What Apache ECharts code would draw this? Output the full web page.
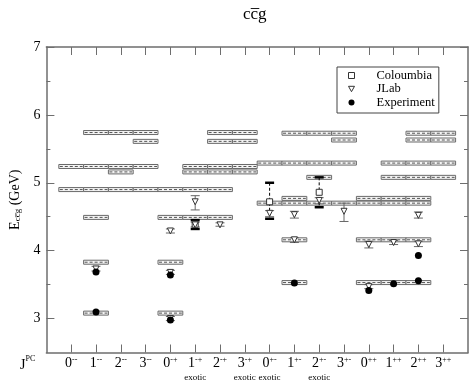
<!DOCTYPE html>
<html>
<head>
<meta charset="utf-8">
<script src="https://cdn.jsdelivr.net/npm/echarts@6/dist/echarts.min.js"></script>
<style>
  html, body { margin: 0; padding: 0; background: #fff; }
  #chart { width: 470px; height: 382px; }
</style>
</head>
<body>
<div id="chart"></div>
<script>
// J^PC channels, drawn at x = 1..16
const categories = ['0--','1--','2--','3--','0-+','1-+','2-+','3-+','0+-','1+-','2+-','3+-','0++','1++','2++','3++'];
const exotic = ['1-+','3-+','0+-','2+-'];
const yTicks = [3, 4, 5, 6, 7];
const yMinorTicks = [3.5, 4.5, 5.5, 6.5];

// Columbia lattice bands: [channel, energy GeV]
const columbiaBands = [
  ['1--',5.74],['2--',5.74],['3--',5.74],['2-+',5.74],['3-+',5.74],
  ['1+-',5.73],['2+-',5.73],['3+-',5.73],['2++',5.73],['3++',5.73],
  ['3--',5.61],['2-+',5.61],['3-+',5.61],['3+-',5.63],['2++',5.63],['3++',5.63],
  ['0+-',5.29],['1+-',5.29],['2+-',5.29],['3+-',5.29],['1++',5.29],['2++',5.29],['3++',5.29],
  ['0--',5.24],['1--',5.24],['2--',5.24],['3--',5.24],['1-+',5.24],['2-+',5.24],['3-+',5.24],
  ['2--',5.16],['1-+',5.16],['2-+',5.16],['3-+',5.16],
  ['2+-',5.08],['1++',5.08],['2++',5.08],['3++',5.08],
  ['0--',4.90],['1--',4.90],['2--',4.90],['3--',4.90],['0-+',4.90],['1-+',4.90],['2-+',4.90],
  ['1+-',4.77],['0++',4.77],['1++',4.77],['2++',4.77],
  ['0+-',4.70],['1+-',4.70],['2+-',4.70],['3+-',4.70],['0++',4.70],['1++',4.70],['2++',4.70],
  ['1--',4.49],['0-+',4.49],['1-+',4.49],['2-+',4.49],
  ['1+-',4.16],['0++',4.16],['1++',4.16],['2++',4.16],
  ['1--',3.83],['0-+',3.83],
  ['1+-',3.53],['0++',3.53],['1++',3.53],['2++',3.53],
  ['1--',3.08],['0-+',3.08]
];

// Columbia points with error: [channel, E, low, high]
const columbiaPts = [['1-+',4.39,4.32,4.45],['0+-',4.72,4.47,5.00],['2+-',4.86,4.64,5.08]];

// JLab: [channel, E, low, high]
const jlab = [
  ['1--',3.73,3.70,3.77],
  ['0-+',3.00,2.97,3.03],['0-+',3.68,3.65,3.71],['0-+',4.29,4.26,4.32],
  ['1-+',4.72,4.60,4.81],['1-+',4.38,4.35,4.42],
  ['2-+',4.38,4.36,4.41],
  ['0+-',4.55,4.50,4.59],
  ['1+-',4.53,4.48,4.58],['1+-',4.16,4.12,4.19],
  ['2+-',4.74,4.69,4.78],
  ['3+-',4.58,4.43,4.70],
  ['0++',3.47,3.44,3.50],['0++',4.09,4.04,4.14],
  ['1++',4.12,4.09,4.15],
  ['2++',4.10,4.06,4.14],['2++',4.52,4.48,4.57]
];

// Experiment: [channel, E]
const experiment = [['1--',3.097],['1--',3.686],['0-+',2.98],['0-+',3.64],['1+-',3.525],
  ['0++',3.415],['1++',3.511],['2++',3.556],['2++',3.93]];

const pos = c => categories.indexOf(c) + 1;
const serif = 'Liberation Serif';
const axisCol = '#6e6e6e';

const chart = echarts.init(document.getElementById('chart'));

function bandItem(params, api) {
  const x = api.value(0), e = api.value(1);
  const l = api.coord([x - 0.5, e]), r = api.coord([x + 0.5, e]);
  const h = 4;
  return {
    type: 'group',
    children: [
      { type: 'rect', shape: { x: l[0], y: l[1] - h / 2, width: r[0] - l[0], height: h },
        style: { fill: '#f4f4f4', stroke: '#6a6a6a', lineWidth: 1 } },
      { type: 'line', shape: { x1: l[0] + 1, y1: l[1], x2: r[0] - 1, y2: l[1] },
        style: { stroke: '#555', lineWidth: 1, lineDash: [3, 2] } }
    ]
  };
}

function errItem(color, dashed, capLW) {
  return function (params, api) {
    const x = api.value(0);
    const top = api.coord([x, api.value(2)]), bot = api.coord([x, api.value(1)]);
    const w = 4.5;
    return {
      type: 'group',
      children: [
        { type: 'line', shape: { x1: top[0], y1: top[1], x2: bot[0], y2: bot[1] },
          style: { stroke: color, lineWidth: 1, lineDash: dashed ? [3, 2] : null } },
        { type: 'line', shape: { x1: top[0] - w, y1: top[1], x2: top[0] + w, y2: top[1] },
          style: { stroke: color, lineWidth: capLW } },
        { type: 'line', shape: { x1: bot[0] - w, y1: bot[1], x2: bot[0] + w, y2: bot[1] },
          style: { stroke: color, lineWidth: capLW } }
      ]
    };
  };
}

const xTickVals = categories.map((c, i) => i + 1);

chart.setOption({
  animation: false,
  title: {
    text: 'cc\u0305g', left: 238, top: 1,
    textStyle: { fontFamily: serif, fontSize: 17, fontWeight: 'normal', color: '#000' }
  },
  grid: { left: 31, right: 2, top: 47, bottom: 29 },
  legend: {
    left: 337, top: 67, orient: 'vertical', selectedMode: false,
    padding: [2, 4, 4, 11], itemGap: 0.5, itemWidth: 6, itemHeight: 6,
    borderColor: '#444', borderWidth: 1,
    textStyle: { fontFamily: serif, fontSize: 12.5, color: '#000', lineHeight: 13, padding: [0, 0, 0, 17] },
    data: [
      { name: 'Coloumbia', icon: 'rect', itemStyle: { color: '#fff', borderColor: '#333', borderWidth: 1 } },
      { name: 'JLab', icon: 'path://M0,0L10,0L5,9Z', itemStyle: { color: '#fff', borderColor: '#333', borderWidth: 1 } },
      { name: 'Experiment', icon: 'circle', itemStyle: { color: '#000' } }
    ]
  },
  xAxis: [
    {
      type: 'value', min: 0, max: 17, interval: 1, position: 'bottom',
      splitLine: { show: false },
      axisLine: { lineStyle: { color: axisCol, width: 1.5 } },
      axisTick: { inside: true, length: 8, customValues: xTickVals, lineStyle: { color: axisCol } },
      axisLabel: {
        customValues: xTickVals, margin: 3,
        formatter: v => {
          const c = categories[v - 1];
          if (!c) return '';
          let s = '{n|' + c[0] + '}{s|' + c.slice(1) + '}';
          if (exotic.includes(c)) s += '\n{e|exotic}';
          return s;
        },
        rich: {
          n: { fontFamily: serif, fontSize: 14, color: '#000', lineHeight: 15 },
          s: { fontFamily: serif, fontSize: 8, color: '#000', lineHeight: 9, verticalAlign: 'top' },
          e: { fontFamily: serif, fontSize: 9, color: '#000', lineHeight: 14 }
        }
      }
    },
    {
      type: 'value', min: 0, max: 17, interval: 1, position: 'top',
      splitLine: { show: false },
      axisLine: { lineStyle: { color: axisCol, width: 1.5 } },
      axisTick: { inside: true, length: 8, customValues: xTickVals, lineStyle: { color: axisCol } },
      axisLabel: { show: false }
    }
  ],
  yAxis: [
    {
      type: 'value', min: 2.5, max: 7, interval: 0.5, position: 'left',
      name: '{e|E}{sub|cc\u0305g}{e| (GeV)}', nameLocation: 'middle', nameGap: 18, nameRotate: 90,
      nameTextStyle: {
        rich: {
          e: { fontFamily: serif, fontSize: 14, color: '#000' },
          sub: { fontFamily: serif, fontSize: 9, color: '#000', verticalAlign: 'bottom', padding: [6, 0, 0, 0] }
        }
      },
      splitLine: { show: false },
      axisLine: { lineStyle: { color: axisCol, width: 1.5 } },
      axisTick: { inside: true, length: 8, customValues: yTicks, lineStyle: { color: axisCol } },
      axisLabel: { customValues: yTicks, margin: 6, fontFamily: serif, fontSize: 14, color: '#000' }
    },
    {
      type: 'value', min: 2.5, max: 7, interval: 0.5, position: 'left',
      splitLine: { show: false }, axisLine: { show: false },
      axisTick: { inside: true, length: 4, customValues: yMinorTicks, lineStyle: { color: axisCol } },
      axisLabel: { show: false }
    },
    {
      type: 'value', min: 2.5, max: 7, interval: 0.5, position: 'right',
      splitLine: { show: false },
      axisLine: { lineStyle: { color: axisCol, width: 1.5 } },
      axisTick: { inside: true, length: 8, customValues: yTicks, lineStyle: { color: axisCol } },
      axisLabel: { show: false }
    },
    {
      type: 'value', min: 2.5, max: 7, interval: 0.5, position: 'right',
      splitLine: { show: false }, axisLine: { show: false },
      axisTick: { inside: true, length: 4, customValues: yMinorTicks, lineStyle: { color: axisCol } },
      axisLabel: { show: false }
    }
  ],
  graphic: [
    {
      type: 'text', left: 20, top: 355,
      style: {
        text: '{j|J}{p|PC}',
        rich: {
          j: { fontFamily: serif, fontSize: 14, fill: '#000', lineHeight: 17, verticalAlign: 'bottom' },
          p: { fontFamily: serif, fontSize: 8, fill: '#000', lineHeight: 10, verticalAlign: 'top' }
        }
      }
    }
  ],
  series: [
    {
      type: 'custom', z: 1, renderItem: bandItem, silent: true,
      encode: { x: 0, y: 1 },
      data: columbiaBands.map(d => [pos(d[0]), d[1]])
    },
    {
      type: 'custom', z: 2, renderItem: errItem('#666', false, 1), silent: true,
      encode: { x: 0, y: [1, 2] },
      data: jlab.map(d => [pos(d[0]), d[2], d[3]])
    },
    {
      type: 'custom', z: 2, renderItem: errItem('#000', true, 2.5), silent: true,
      encode: { x: 0, y: [1, 2] },
      data: columbiaPts.map(d => [pos(d[0]), d[2], d[3]])
    },
    {
      name: 'Coloumbia', type: 'scatter', z: 3, symbol: 'rect', symbolSize: 6,
      itemStyle: { color: '#fff', borderColor: '#333', borderWidth: 1, opacity: 1 },
      data: columbiaPts.map(d => [pos(d[0]), d[1]])
    },
    {
      name: 'JLab', type: 'scatter', z: 3, symbol: 'triangle', symbolRotate: 180, symbolSize: 6,
      itemStyle: { color: '#fff', borderColor: '#333', borderWidth: 1, opacity: 1 },
      data: jlab.map(d => [pos(d[0]), d[1]])
    },
    {
      name: 'Experiment', type: 'scatter', z: 4, symbol: 'circle', symbolSize: 7,
      itemStyle: { color: '#000', opacity: 1 },
      data: experiment.map(d => [pos(d[0]), d[1]])
    }
  ]
});
</script>
</body>
</html>
